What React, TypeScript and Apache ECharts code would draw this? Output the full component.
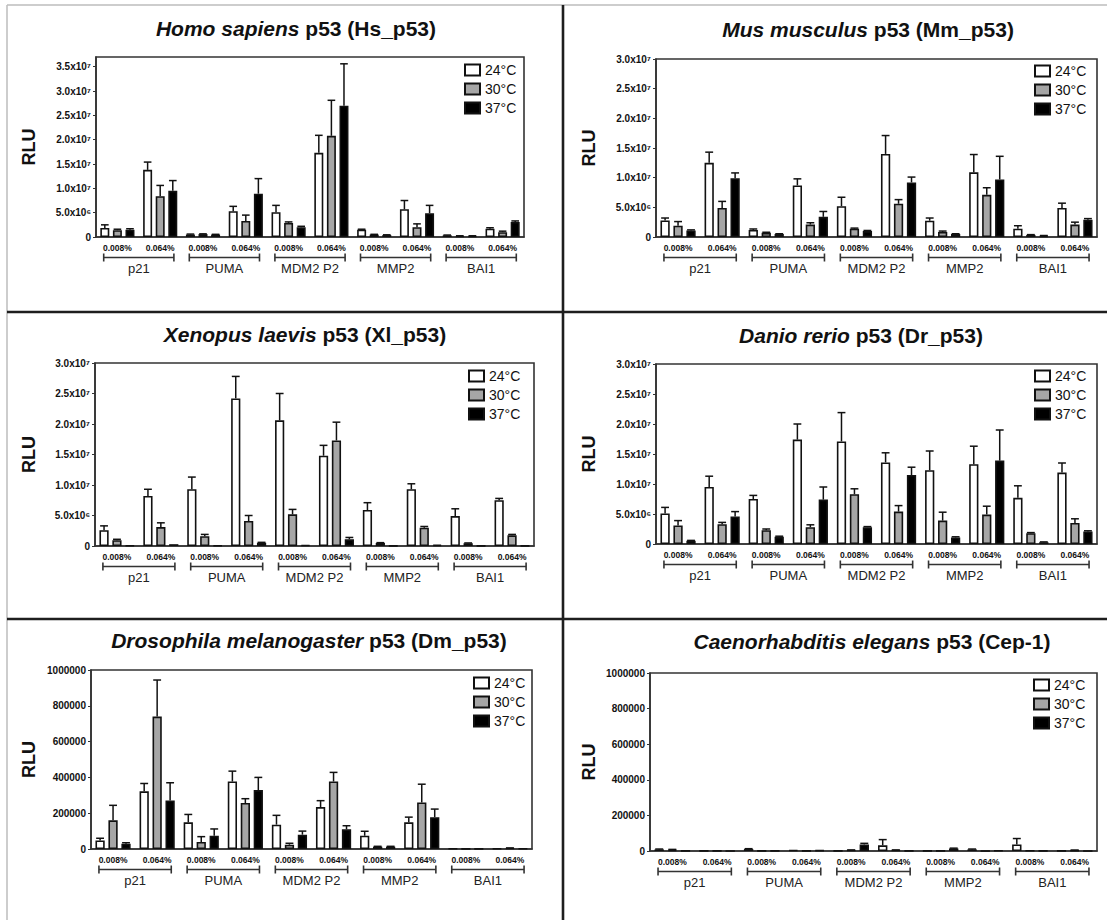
import React, { useEffect, useRef } from "react";
import * as echarts from "echarts";

// ---------- categories ----------
const genes = ["p21", "PUMA", "MDM2 P2", "MMP2", "BAI1"];
const concentrations = ["0.008%", "0.064%"];
const temps = ["24°C", "30°C", "37°C"];
const xCats = genes.flatMap(() => concentrations);

// ---------- data (Hs, Mm, Xl, Dr in 1e6 RLU; Dm, Ce in 1e3 RLU) ----------
const hs24 = [1.85, 13.8, 0.5, 5.3, 5.1, 17.3, 1.5, 5.7, 0.35, 1.7];
const hs24Err = [0.65, 1.6, 0.1, 1.0, 1.4, 3.6, 0.1, 1.8, 0.05, 0.2];
const hs30 = [1.4, 8.4, 0.6, 3.3, 2.9, 20.8, 0.5, 2.0, 0.2, 1.0];
const hs30Err = [0.2, 2.2, 0.05, 1.2, 0.2, 7.3, 0.05, 0.7, 0.05, 0.2];
const hs37 = [1.5, 9.5, 0.5, 8.9, 2.0, 27.0, 0.4, 4.9, 0.2, 3.1];
const hs37Err = [0.2, 2.1, 0.05, 3.1, 0.2, 8.6, 0.05, 1.6, 0.05, 0.2];

const mm24 = [2.8, 12.5, 1.2, 8.7, 5.2, 14.0, 2.75, 10.9, 1.4, 4.9];
const mm24Err = [0.4, 1.8, 0.15, 1.1, 1.5, 3.1, 0.45, 3.0, 0.5, 0.8];
const mm30 = [1.9, 4.9, 0.7, 2.1, 1.4, 5.6, 0.85, 7.1, 0.35, 2.1];
const mm30Err = [0.7, 1.1, 0.1, 0.3, 0.1, 0.7, 0.15, 1.2, 0.05, 0.4];
const mm37 = [1.1, 9.9, 0.5, 3.4, 1.0, 9.2, 0.5, 9.7, 0.2, 2.9];
const mm37Err = [0.1, 0.9, 0.05, 0.9, 0.1, 0.9, 0.05, 3.9, 0.05, 0.2];

const xl24 = [2.6, 8.2, 9.3, 24.2, 20.6, 14.8, 5.9, 9.3, 4.9, 7.5];
const xl24Err = [0.7, 1.1, 2.0, 3.6, 4.4, 1.7, 1.2, 0.9, 1.2, 0.3];
const xl30 = [0.95, 3.1, 1.6, 4.1, 5.2, 17.3, 0.5, 3.0, 0.45, 1.75];
const xl30Err = [0.15, 0.7, 0.3, 0.9, 0.8, 3.0, 0.05, 0.2, 0.05, 0.15];
const xl37 = [0.1, 0.3, 0.1, 0.55, 0.15, 1.1, 0.05, 0.2, 0.05, 0.05];
const xl37Err = [0, 0, 0, 0.05, 0, 0.3, 0, 0, 0, 0];

const dr24 = [5.1, 9.5, 7.5, 17.4, 17.1, 13.6, 12.3, 13.3, 7.7, 11.9];
const dr24Err = [1.0, 1.8, 0.6, 2.6, 4.8, 1.6, 3.2, 3.0, 2.0, 1.6];
const dr30 = [3.1, 3.3, 2.3, 2.8, 8.3, 5.4, 3.9, 4.9, 1.8, 3.5];
const dr30Err = [0.8, 0.3, 0.2, 0.4, 0.9, 1.0, 1.4, 1.4, 0.1, 0.7];
const dr37 = [0.55, 4.6, 1.2, 7.4, 2.8, 11.5, 1.1, 13.9, 0.3, 2.1];
const dr37Err = [0.05, 0.8, 0.1, 2.1, 0.1, 1.3, 0.1, 5.1, 0.05, 0.1];

const dm24 = [48, 322, 149, 377, 136, 234, 74, 149, 2, 3];
const dm24Err = [12, 44, 44, 58, 52, 36, 25, 29, 0, 0];
const dm30 = [160, 740, 39, 257, 24, 377, 13, 260, 1, 5];
const dm30Err = [84, 204, 30, 24, 8, 51, 2, 102, 0, 1];
const dm37 = [30, 271, 74, 329, 80, 110, 13, 178, 1, 2];
const dm37Err = [5, 99, 38, 71, 20, 20, 2, 45, 0, 0];

const ce24 = [9, 1, 11, 5, 1, 32, 1, 9, 37, 1];
const ce24Err = [2, 0, 2, 0, 0, 32, 0, 2, 33, 0];
const ce30 = [7, 1, 1, 1, 5, 5, 1, 0, 2, 4];
const ce30Err = [2, 0, 0, 0, 1, 1, 0, 0, 0, 1];
const ce37 = [1, 0, 1, 4, 37, 1, 14, 3, 1, 0];
const ce37Err = [0, 0, 0, 0, 6, 0, 2, 0, 0, 0];

// ---------- layout / style ----------
const FONT = "'Liberation Sans', Arial, Helvetica, sans-serif";
const FILLS = ["#ffffff", "#a6a6a6", "#000000"];
const BAR_W = 0.21;
const BAR_GAP = 0.4;

const PANELS = [
  {
    italic: "Homo sapiens", rest: " p53 (Hs_p53)",
    mean: [hs24, hs30, hs37], err: [hs24Err, hs30Err, hs37Err], unit: 1e6,
    max: 3.7e7, interval: 5e6, sci: true,
    grid: { left: 96, top: 57, width: 428, height: 180 },
    title: [296, 19], legend: [464, 63], nameGap: 58,
  },
  {
    italic: "Mus musculus", rest: " p53 (Mm_p53)",
    mean: [mm24, mm30, mm37], err: [mm24Err, mm30Err, mm37Err], unit: 1e6,
    max: 3.0e7, interval: 5e6, sci: true,
    grid: { left: 656, top: 59, width: 441, height: 178 },
    title: [868, 20], legend: [1034, 64], nameGap: 58,
  },
  {
    italic: "Xenopus laevis", rest: " p53 (Xl_p53)",
    mean: [xl24, xl30, xl37], err: [xl24Err, xl30Err, xl37Err], unit: 1e6,
    max: 3.0e7, interval: 5e6, sci: true,
    grid: { left: 95, top: 363, width: 439, height: 183 },
    title: [305, 325], legend: [468, 369], nameGap: 57,
  },
  {
    italic: "Danio rerio", rest: " p53 (Dr_p53)",
    mean: [dr24, dr30, dr37], err: [dr24Err, dr30Err, dr37Err], unit: 1e6,
    max: 3.0e7, interval: 5e6, sci: true,
    grid: { left: 656, top: 364, width: 441, height: 180 },
    title: [861, 326], legend: [1034, 369], nameGap: 58,
  },
  {
    italic: "Drosophila melanogaster", rest: " p53 (Dm_p53)",
    mean: [dm24, dm30, dm37], err: [dm24Err, dm30Err, dm37Err], unit: 1e3,
    max: 1e6, interval: 2e5, sci: false,
    grid: { left: 91, top: 670, width: 441, height: 179 },
    title: [309, 631], legend: [473, 676], nameGap: 53,
  },
  {
    italic: "Caenorhabditis elegans", rest: " p53 (Cep-1)",
    mean: [ce24, ce30, ce37], err: [ce24Err, ce30Err, ce37Err], unit: 1e3,
    max: 1e6, interval: 2e5, sci: false,
    grid: { left: 650, top: 673, width: 447, height: 178 },
    title: [872, 632], legend: [1033, 678], nameGap: 52,
  },
];

const SUP: Record<string, string> = { "0": "⁰", "1": "¹", "2": "²", "3": "³", "4": "⁴", "5": "⁵", "6": "⁶", "7": "⁷", "8": "⁸", "9": "⁹" };

function sciLabel(v: number): string {
  if (v === 0) return "0";
  const exp = Math.floor(Math.log10(v) + 1e-9);
  const mant = v / Math.pow(10, exp);
  const e = String(exp).split("").map((c) => SUP[c]).join("");
  return `${mant.toFixed(1)}x10${e}`;
}

function errorRender(params: any, api: any) {
  const cat = api.value(0);
  const s = api.value(1);
  const m = api.value(2);
  const e = api.value(3);
  if (!(e > 0)) return { type: "group", children: [] };
  const band = api.size([1, 0])[0];
  const w = band * BAR_W;
  const off = (s - 1) * w * (1 + BAR_GAP);
  const base = api.coord([cat, m]);
  const top = api.coord([cat, m + e]);
  const x = base[0] + off;
  const cw = w * 0.85;
  const style = { stroke: "#111", lineWidth: 1.5 };
  return {
    type: "group",
    children: [
      { type: "line", shape: { x1: x, y1: base[1], x2: x, y2: top[1] }, style },
      { type: "line", shape: { x1: x - cw / 2, y1: top[1], x2: x + cw / 2, y2: top[1] }, style },
    ],
  };
}

function bracketRender(params: any, api: any) {
  const a = api.coord([api.value(0), 0]);
  const b = api.coord([api.value(1), 0]);
  const band = api.size([1, 0])[0];
  const x0 = a[0] - band * 0.32;
  const x1 = b[0] + band * 0.32;
  const y = a[1] + 20.5;
  const style = { stroke: "#333", lineWidth: 1.6 };
  return {
    type: "group",
    children: [
      { type: "line", shape: { x1: x0, y1: y, x2: x1, y2: y }, style },
      { type: "line", shape: { x1: x0, y1: y - 4, x2: x0, y2: y + 4 }, style },
      { type: "line", shape: { x1: x1, y1: y - 4, x2: x1, y2: y + 4 }, style },
    ],
  };
}

function buildOption() {
  const grid: any[] = [];
  const xAxis: any[] = [];
  const yAxis: any[] = [];
  const series: any[] = [];
  const title: any[] = [];
  const legend: any[] = [];

  PANELS.forEach((p, pi) => {
    grid.push({ ...p.grid, show: true, borderColor: "#333", borderWidth: 1.6, backgroundColor: "transparent", containLabel: false });
    xAxis.push({
      type: "category", gridIndex: pi, data: xCats, position: "bottom",
      axisLine: { lineStyle: { color: "#333", width: 1.6 } },
      axisTick: { alignWithLabel: true, length: 3, lineStyle: { color: "#333", width: 1 } },
      axisLabel: { interval: 0, fontSize: 8.5, fontWeight: "bold", color: "#111", margin: 6, fontFamily: FONT },
    });
    xAxis.push({
      type: "category", gridIndex: pi, data: genes, position: "bottom",
      axisLine: { show: false }, axisTick: { show: false },
      axisLabel: { interval: 0, fontSize: 13, color: "#222", margin: 25, fontFamily: FONT },
    });
    yAxis.push({
      type: "value", gridIndex: pi, min: 0, max: p.max, interval: p.interval,
      name: "RLU", nameLocation: "middle", nameGap: p.nameGap, nameRotate: 90,
      nameTextStyle: { fontSize: 18, fontWeight: "bold", color: "#111", fontFamily: FONT },
      axisLine: { show: true, lineStyle: { color: "#333", width: 1.6 } },
      axisTick: { show: true, length: 3, lineStyle: { color: "#333" } },
      splitLine: { show: false },
      axisLabel: {
        fontSize: 10, fontWeight: "bold", color: "#111", margin: 5, fontFamily: FONT,
        showMaxLabel: p.max % p.interval === 0,
        formatter: (v: number) => (p.sci ? sciLabel(v) : String(v)),
      },
    });

    temps.forEach((t, ti) => {
      series.push({
        type: "bar", name: t, xAxisIndex: pi * 2, yAxisIndex: pi,
        data: p.mean[ti].map((v) => v * p.unit),
        barWidth: `${BAR_W * 100}%`, barGap: `${BAR_GAP * 100}%`,
        itemStyle: { color: FILLS[ti], borderColor: "#111", borderWidth: 1.6 },
        z: 2,
      });
    });

    const errData: number[][] = [];
    temps.forEach((_, ti) => {
      p.mean[ti].forEach((v, ci) => {
        errData.push([ci, ti, v * p.unit, p.err[ti][ci] * p.unit]);
      });
    });
    series.push({
      type: "custom", xAxisIndex: pi * 2, yAxisIndex: pi, data: errData,
      renderItem: errorRender, encode: { x: 0, y: 2 }, clip: false, silent: true, z: 3,
    });
    series.push({
      type: "custom", xAxisIndex: pi * 2, yAxisIndex: pi,
      data: genes.map((_, gi) => [gi * 2, gi * 2 + 1]),
      renderItem: bracketRender, encode: { x: 0 }, clip: false, silent: true, z: 3,
    });

    title.push({
      text: `{i|${p.italic}}{n|${p.rest}}`,
      left: p.title[0], top: p.title[1] - 1, textAlign: "center", padding: 0,
      textStyle: {
        rich: {
          i: { fontSize: 21, fontWeight: "bold", fontStyle: "italic", color: "#111", fontFamily: FONT },
          n: { fontSize: 21, fontWeight: "bold", color: "#111", fontFamily: FONT },
        },
      },
    });

    legend.push({
      data: temps, left: p.legend[0], top: p.legend[1], orient: "vertical",
      itemWidth: 15, itemHeight: 11, itemGap: 5, padding: 0, icon: "rect",
      selectedMode: false,
      textStyle: { fontSize: 14, color: "#111", fontFamily: FONT },
    });
  });

  const grey = { stroke: "#bdbdbd", lineWidth: 1.5 };
  const dark = { stroke: "#1e1e1e", lineWidth: 2.6 };
  const graphic = [
    { type: "line", shape: { x1: 7, y1: 5, x2: 1107, y2: 5 }, style: grey, silent: true },
    { type: "line", shape: { x1: 7, y1: 5, x2: 7, y2: 920 }, style: grey, silent: true },
    { type: "line", shape: { x1: 563, y1: 5, x2: 563, y2: 920 }, style: dark, silent: true },
    { type: "line", shape: { x1: 7, y1: 312, x2: 1107, y2: 312 }, style: dark, silent: true },
    { type: "line", shape: { x1: 7, y1: 619, x2: 1107, y2: 619 }, style: dark, silent: true },
  ];

  return {
    animation: false,
    backgroundColor: "#ffffff",
    textStyle: { fontFamily: FONT },
    title, legend, grid, xAxis, yAxis, series, graphic,
  };
}

export default function App() {
  const ref = useRef<HTMLDivElement>(null);
  useEffect(() => {
    if (!ref.current) return;
    const chart = echarts.init(ref.current, undefined, { renderer: "svg" });
    chart.setOption(buildOption() as any);
    return () => chart.dispose();
  }, []);
  return (
    <div
      ref={ref}
      style={{ position: "absolute", left: 0, top: 0, width: 1107, height: 920, background: "#fff" }}
    />
  );
}
